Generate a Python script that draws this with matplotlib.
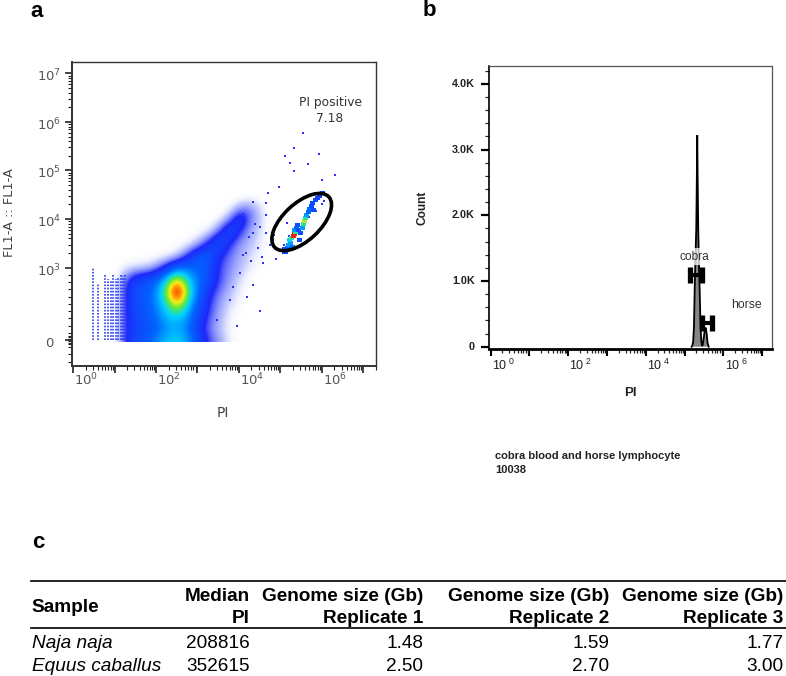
import numpy as np
import matplotlib
matplotlib.use("Agg")
import matplotlib.pyplot as plt
from matplotlib import transforms
from matplotlib.colors import LinearSegmentedColormap
from matplotlib.patches import Ellipse, Rectangle
from matplotlib.lines import Line2D
from matplotlib.ticker import FixedLocator, NullFormatter

plt.rcParams['font.family'] = ['DejaVu Sans']
plt.rcParams['mathtext.fontset'] = 'dejavusans'
plt.rcParams['mathtext.rm'] = 'Liberation Sans'
plt.rcParams['mathtext.bf'] = 'Liberation Sans:bold'
plt.rcParams['mathtext.it'] = 'Liberation Sans:italic'
plt.rcParams['mathtext.sf'] = 'Liberation Sans'

# ------------------------------------------------------------------ data
# panel a : FlowJo pseudocolour density of PI vs FL1-A (levels)
dens_log_pi = [0.75, 1.0, 1.25, 1.5, 1.75, 2.0, 2.25, 2.5, 2.75, 3.0, 3.25, 3.5, 3.75, 4.0,
               4.25, 4.5, 4.75]
dens_fl1 = [0, 166.7, 333.3, 500, 666.7, 833.3, 1000, 1770, 3133, 5546, 9817, 17378, 30760]
dens_level = [
    [0, 0, 1.2, 2.0, 2.2, 2.8, 3.4, 3.6, 3.1, 2.0, 1.2, 0.8, 0.3, 0, 0, 0, 0],
    [0, 0, 1.2, 1.8, 2.0, 2.3, 2.9, 3.1, 2.7, 1.6, 1.0, 0.6, 0.2, 0, 0, 0, 0],
    [0, 0, 1.2, 1.9, 2.1, 2.6, 3.3, 3.6, 3.0, 1.9, 1.2, 0.7, 0.3, 0, 0, 0, 0],
    [0, 0, 1.2, 2.0, 2.2, 2.8, 3.8, 5.6, 3.6, 2.2, 1.3, 0.8, 0.4, 0.2, 0, 0, 0],
    [0, 0, 1.2, 2.0, 2.2, 2.9, 4.5, 9.5, 4.4, 2.6, 1.5, 1.0, 0.6, 0.3, 0, 0, 0],
    [0, 0, 1.0, 1.8, 2.0, 2.4, 3.5, 5.4, 3.6, 2.6, 2.0, 1.2, 0.8, 0.4, 0.1, 0, 0],
    [0, 0, 0.3, 0.4, 0.5, 0.8, 1.5, 2.4, 2.6, 2.4, 2.1, 1.2, 0.9, 0.6, 0.3, 0.1, 0],
    [0, 0, 0, 0, 0, 0.1, 0.2, 0.4, 1.2, 2.2, 2.3, 1.4, 1.0, 0.7, 0.4, 0.2, 0],
    [0, 0, 0, 0, 0, 0, 0, 0.1, 0.2, 0.6, 1.4, 2.3, 1.3, 0.8, 0.6, 0.3, 0],
    [0, 0, 0, 0, 0, 0, 0, 0, 0, 0.1, 0.3, 1.0, 2.2, 1.3, 0.7, 0.4, 0],
    [0, 0, 0, 0, 0, 0, 0, 0, 0, 0, 0, 0.2, 0.8, 2.0, 1.0, 0.5, 0],
    [0, 0, 0, 0, 0, 0, 0, 0, 0, 0, 0, 0, 0.1, 0.7, 0.9, 0.4, 0],
    [0, 0, 0, 0, 0, 0, 0, 0, 0, 0, 0, 0, 0, 0, 0, 0, 0],
]
stripe_pi = [3, 4, 6, 7, 8, 9, 11, 12, 14, 16, 18]
stripe_top = [1000, 780, 900, 850, 820, 900, 850, 870, 900, 880, 900]

outlier_log_pi = [5.54, 5.33, 5.93, 5.12, 5.24, 5.66, 5.33, 6.31, 6.01, 4.96, 4.70, 4.35,
                  4.66, 5.02, 4.50, 4.82, 4.34, 4.18, 4.58, 5.06, 4.66, 3.86, 4.34, 3.78,
                  3.46, 4.02, 4.45, 4.25, 4.90, 4.75, 4.40, 4.55, 5.00, 4.85, 4.10, 4.30,
                  4.20, 4.50, 3.95, 4.10, 4.65, 5.15, 5.20, 5.45, 5.60, 5.10, 5.30, 5.70,
                  5.85, 6.00, 6.05]
outlier_fl1 = [589000, 295000, 219000, 200000, 141000, 135000, 95500, 81300, 63100, 46800,
               33900, 22900, 21400, 11200, 6900, 3700, 5100, 2000, 1230, 2000, 5100, 737,
               760, 553, 277, 923, 2600, 4300, 1500, 2900, 8000, 1700, 2300, 4800, 13000,
               1400, 600, 400, 200, 1800, 12000, 8500, 4500, 6000, 7500, 3000, 2700, 11000,
               15000, 20000, 24000]

gated_log_pi = [5.125, 5.173, 5.198, 5.246, 5.222, 5.270, 5.318, 5.342, 5.366, 5.342, 5.390,
                5.414, 5.294, 5.101, 5.439,
                5.487, 5.535, 5.559, 5.583, 5.607, 5.631, 5.680, 5.704, 5.752, 5.776, 5.848,
                5.896, 5.945, 6.017, 5.463, 5.800]
gated_log_fl1 = [3.32, 3.41, 3.47, 3.51, 3.57, 3.61, 3.65, 3.69, 3.73, 3.78, 3.82, 3.88, 3.43,
                 3.38, 3.78,
                 3.71, 3.82, 3.90, 3.96, 4.02, 4.08, 4.15, 4.21, 4.27, 4.33, 4.39, 4.43, 4.48,
                 4.54, 3.57, 4.19]
gated_level = [2, 2.5, 3, 3, 3.5, 4, 7.5, 8, 4, 3, 2.5, 2, 2.5, 2, 2,
               2, 3, 4, 5, 4, 3, 2.5, 2.5, 2, 2, 2, 1.8, 1.8, 1.6, 2, 2]

gate_center_log_pi = 5.516
gate_center_log_fl1 = 3.94
gate_name = "PI positive"
gate_percent = "7.18"

a_xlabel_decades = [0, 2, 4, 6]
a_ytick_values = [0, 1e3, 1e4, 1e5, 1e6, 1e7]
a_ytick_text = ["0", "$10^{3}$", "$10^{4}$", "$10^{5}$", "$10^{6}$", "$10^{7}$"]

# panel b : PI histogram
hist_log_pi = [5.18, 5.20, 5.22, 5.24, 5.26, 5.28, 5.30, 5.315, 5.325, 5.335, 5.35, 5.37,
               5.39, 5.41, 5.43, 5.45, 5.47, 5.50, 5.52, 5.545, 5.57, 5.59, 5.62]
hist_count = [0, 20, 80, 300, 900, 1400, 1800, 2600, 3220, 2600, 1800, 1250,
              800, 300, 80, 10, 40, 170, 260, 290, 190, 60, 0]
gate_names = ["cobra", "horse"]
gate_lo_log = [5.137, 5.454]
gate_hi_log = [5.438, 5.696]
gate_level_count = [1090, 356]
b_xlabel_decades = [0, 2, 4, 6]
b_ytick_values = [0, 1000, 2000, 3000, 4000]
b_ytick_text = ["0", "1.0K", "2.0K", "3.0K", "4.0K"]
sample_caption = ["cobra blood and horse lymphocyte", "10038"]

# panel c : table
table_header_1 = ["Median", "Genome size (Gb)", "Genome size (Gb)", "Genome size (Gb)"]
table_header_2 = ["PI", "Replicate 1", "Replicate 2", "Replicate 3"]
table_samples = ["Naja naja", "Equus caballus"]
table_median_pi = [208816, 352615]
table_rep1 = [1.48, 2.50]
table_rep2 = [1.59, 2.70]
table_rep3 = [1.77, 3.00]

# ------------------------------------------------------------------ figure
W, H = 786, 676
fig = plt.figure(figsize=(W / 100, H / 100), dpi=100)


def fx(x):
    return x / W


def fy(y):
    return 1 - y / H


def px_off(dx, dy):
    return transforms.ScaledTranslation(dx / 100, dy / 100, fig.dpi_scale_trans)


# ============================== panel a
ax_a = fig.add_axes([fx(72), fy(365.7), fx(376) - fx(72), fy(62.3) - fy(365.7)])
ax_a.set_xscale('log')
ax_a.set_yscale('symlog', linthresh=1000, linscale=1.339)
ax_a.set_xlim(10 ** -0.03, 10 ** 7.31)
ax_a.set_ylim(-355, 10 ** 7.226)

pseudo = [(0.0, (1, 1, 1, 0)), (0.06, (0.6, 0.65, 1.0, 0.6)), (0.16, (0.12, 0.16, 0.98, 1)),
          (0.31, (0.0, 0.4, 1.0, 1)), (0.44, (0.0, 0.82, 1.0, 1)), (0.56, (0.35, 0.92, 0.25, 1)),
          (0.69, (0.98, 0.92, 0.1, 1)), (0.81, (1.0, 0.55, 0.0, 1)), (0.94, (0.95, 0.15, 0.05, 1)),
          (1.0, (0.88, 0.12, 0.05, 1))]
cmap = LinearSegmentedColormap.from_list('flowjo', pseudo)
cmap.set_over((0.88, 0.12, 0.05, 1))

# density drawn in the axes' scaled (log / symlog) space, smoothed by the image renderer
ux = ax_a.xaxis.get_transform().transform(10 ** np.array(dens_log_pi))
vy = ax_a.yaxis.get_transform().transform(np.array(dens_fl1, dtype=float))
du = (ux[-1] - ux[0]) / (len(ux) - 1)
dv = (vy[-1] - vy[0]) / (len(vy) - 1)
img = ax_a.imshow(np.array(dens_level), origin='lower', cmap=cmap, vmin=0, vmax=8,
                  extent=(ux[0] - du / 2, ux[-1] + du / 2, vy[0] - dv / 2, vy[-1] + dv / 2),
                  transform=ax_a.transLimits + ax_a.transAxes, interpolation='bicubic',
                  interpolation_stage='data', aspect='auto', zorder=1)
ax_a.set_xlim(10 ** -0.03, 10 ** 7.31)
ax_a.set_ylim(-355, 10 ** 7.226)
y_floor = ax_a.transAxes.inverted().transform(ax_a.transData.transform((1, -25)))[1]
clip_rect = Rectangle((0, y_floor), 1, 1 - y_floor, transform=ax_a.transAxes,
                      facecolor='none', edgecolor='none')
ax_a.add_artist(clip_rect)
img.set_clip_path(clip_rect)

ax_a.vlines(stripe_pi, 0, stripe_top, colors='#2a3cf0', linestyles=(0, (1.0, 0.9)),
            linewidth=1.2, zorder=2)
ax_a.scatter(10 ** np.array(outlier_log_pi), outlier_fl1, s=2.5, marker='s',
             color='#2a30ff', linewidths=0, zorder=3)
ax_a.scatter(10 ** np.array(gated_log_pi), 10 ** np.array(gated_log_fl1), s=9, marker='s',
             c=cmap(np.array(gated_level) / 8), linewidths=0, zorder=4)

cx, cy = ax_a.transData.transform((10 ** gate_center_log_pi, 10 ** gate_center_log_fl1))
ax_a.add_artist(Ellipse((cx, cy), width=74, height=37, angle=43,
                        transform=transforms.IdentityTransform(), fill=False,
                        ec='black', lw=2.6, zorder=5))
ax_a.text(10 ** 6.2, 10 ** 6.4, gate_name, ha='center', va='center', fontsize=8.8, color='#333')
ax_a.text(10 ** 6.2, 10 ** 6.08, gate_percent, ha='center', va='center', fontsize=8.8, color='#333')

ax_a.xaxis.set_major_locator(FixedLocator([10 ** d for d in range(0, 8)]))
ax_a.xaxis.set_minor_locator(FixedLocator([m * 10 ** d for d in range(0, 8) for m in range(2, 10)]))
ax_a.yaxis.set_major_locator(FixedLocator(a_ytick_values))
ax_a.yaxis.set_minor_locator(FixedLocator(
    [m * 10 ** d for d in range(3, 7) for m in range(2, 10)]
    + list(range(100, 1000, 100)) + [-300, -200, -100, -60, -40, -20, 20, 40, 60]))
for axis in (ax_a.xaxis, ax_a.yaxis):
    axis.set_major_formatter(NullFormatter())
    axis.set_minor_formatter(NullFormatter())
ax_a.tick_params(which='major', direction='out', length=5, width=1.2, color='#222')
ax_a.tick_params(which='minor', direction='out', length=2.6, width=0.8, color='#222')
for sp in ax_a.spines.values():
    sp.set_color('#333')
    sp.set_linewidth(1.0)
ax_a.spines['bottom'].set_linewidth(1.4)
ax_a.spines['left'].set_linewidth(1.4)

tr = ax_a.get_xaxis_transform() + px_off(13, -6)
for d in a_xlabel_decades:
    ax_a.text(10 ** d, 0, f'$10^{{{d}}}$', transform=tr, ha='center', va='top',
              fontsize=9.5, color='#555')
tr = ax_a.get_yaxis_transform() + px_off(-23, -3)
for v, s in zip(a_ytick_values, a_ytick_text):
    ax_a.text(0, v, s, transform=tr, ha='center', va='center', fontsize=9.5, color='#555')

fig.text(fx(222.7), fy(413.3), 'PI', ha='center', va='center', fontsize=10, color='#444')
fig.text(fx(10), fy(213), 'FL1-A :: FL1-A', ha='center', va='center', rotation=90,
         fontsize=9.3, color='#444')

# ============================== panel b
ax_b = fig.add_axes([fx(489.3), fy(348.7), fx(772.3) - fx(489.3), fy(66) - fy(348.7)])
ax_b.set_xscale('log')
ax_b.set_xlim(10 ** -0.036, 10 ** 7.26)
ax_b.set_ylim(-30, 4272)

hx = 10 ** np.array(hist_log_pi)
ax_b.fill_between(hx, hist_count, 0, facecolor='#868686', edgecolor='none', zorder=2)
ax_b.plot(hx, hist_count, color='black', lw=1.3, zorder=3, solid_joinstyle='miter')

ax_b.text(10 ** 5.24, 1370, gate_names[0], ha='center', va='center', fontsize=8.6,
          family='Liberation Sans', color='#333', zorder=4,
          bbox=dict(facecolor='white', alpha=0.75, edgecolor='none', pad=2))
ax_b.text(10 ** 6.6, 635, gate_names[1], ha='center', va='center', fontsize=8.8,
          family='Liberation Sans', color='#333', zorder=4)
for lo, hi, yv in zip(gate_lo_log, gate_hi_log, gate_level_count):
    ax_b.plot([10 ** lo, 10 ** hi], [yv, yv], color='black', lw=3, marker='|', ms=11,
              mew=3.8, zorder=5, solid_capstyle='butt')

ax_b.xaxis.set_major_locator(FixedLocator([10 ** d for d in range(0, 8)]))
ax_b.xaxis.set_minor_locator(FixedLocator([m * 10 ** d for d in range(0, 8) for m in range(2, 10)]))
ax_b.yaxis.set_major_locator(FixedLocator(b_ytick_values))
ax_b.yaxis.set_minor_locator(FixedLocator(list(range(200, 4272, 200))))
for axis in (ax_b.xaxis, ax_b.yaxis):
    axis.set_major_formatter(NullFormatter())
    axis.set_minor_formatter(NullFormatter())
ax_b.tick_params(axis='y', which='major', direction='out', length=5.5, width=1.6, color='black')
ax_b.tick_params(axis='y', which='minor', direction='out', length=3.2, width=0.9, color='#222')
ax_b.tick_params(axis='x', which='major', direction='out', length=5.0, width=1.5, color='black')
ax_b.tick_params(axis='x', which='minor', direction='out', length=2.9, width=0.9, color='#222')
ax_b.spines['top'].set_color('#555')
ax_b.spines['right'].set_color('#555')
ax_b.spines['top'].set_linewidth(0.9)
ax_b.spines['right'].set_linewidth(0.9)
ax_b.spines['left'].set_linewidth(1.2)
ax_b.spines['bottom'].set_linewidth(2.0)

tr = ax_b.get_xaxis_transform() + px_off(12.6, -9.5)
for d in b_xlabel_decades:
    ax_b.text(10 ** d, 0, f'$10^{{\\ {d}}}$', transform=tr, ha='center', va='top',
              fontsize=9, color='#222', math_fontfamily='custom')
tr = ax_b.get_yaxis_transform() + px_off(-14.3, 0)
for v, s in zip(b_ytick_values, b_ytick_text):
    ax_b.text(0, v, s, transform=tr, ha='right', va='center', fontsize=7.8,
              fontweight='bold', family='Liberation Sans', color='#222')

fig.text(fx(630), fy(393.3), 'PI', ha='center', va='center', fontsize=9.5,
         fontweight='bold', family='Liberation Sans', color='#222')
fig.text(fx(423), fy(208), 'Count', ha='center', va='center', rotation=90, fontsize=8.6,
         fontweight='bold', family='Liberation Sans', color='#222')
fig.text(fx(495), fy(459), sample_caption[0], ha='left', va='baseline', fontsize=8,
         fontweight='bold', family='Liberation Sans', color='#222')
fig.text(fx(495), fy(473.3), sample_caption[1], ha='left', va='baseline', fontsize=8,
         fontweight='bold', family='Liberation Sans', color='#222')

# ============================== panel letters
for lab, x, y in (('a', 30.5, 16.7), ('b', 422.7, 16.0), ('c', 31.7, 547.7)):
    fig.text(fx(x), fy(y), lab, ha='left', va='baseline', fontsize=16, fontweight='bold',
             family='Liberation Sans')

# ============================== panel c : table
tfs = 13.7
tfam = 'Liberation Sans'
fig.add_artist(Line2D([fx(30.7), 1.0], [fy(580.5), fy(580.5)], color='black', lw=1.2))
fig.add_artist(Line2D([fx(30.7), 1.0], [fy(627.5), fy(627.5)], color='black', lw=1.2))
fig.text(fx(31.7), fy(611.7), 'Sample', ha='left', va='baseline', fontsize=tfs,
         fontweight='bold', family=tfam)
col_right = [250, 423.3, 609.3, 783.3]
for xr, h1, h2 in zip(col_right, table_header_1, table_header_2):
    fig.text(fx(xr), fy(600.8), h1, ha='right', va='baseline', fontsize=tfs,
             fontweight='bold', family=tfam)
    fig.text(fx(xr), fy(623.3), h2, ha='right', va='baseline', fontsize=tfs,
             fontweight='bold', family=tfam)
row_base = [648.0, 671.3]
for i, yb in enumerate(row_base):
    fig.text(fx(31.7), fy(yb), table_samples[i], ha='left', va='baseline', fontsize=tfs,
             style='italic', family=tfam)
    cells = [f'{table_median_pi[i]}', f'{table_rep1[i]:.2f}', f'{table_rep2[i]:.2f}',
             f'{table_rep3[i]:.2f}']
    for xr, s in zip(col_right, cells):
        fig.text(fx(xr), fy(yb), s, ha='right', va='baseline', fontsize=tfs, family=tfam)

fig.savefig('out.png', dpi=100)
